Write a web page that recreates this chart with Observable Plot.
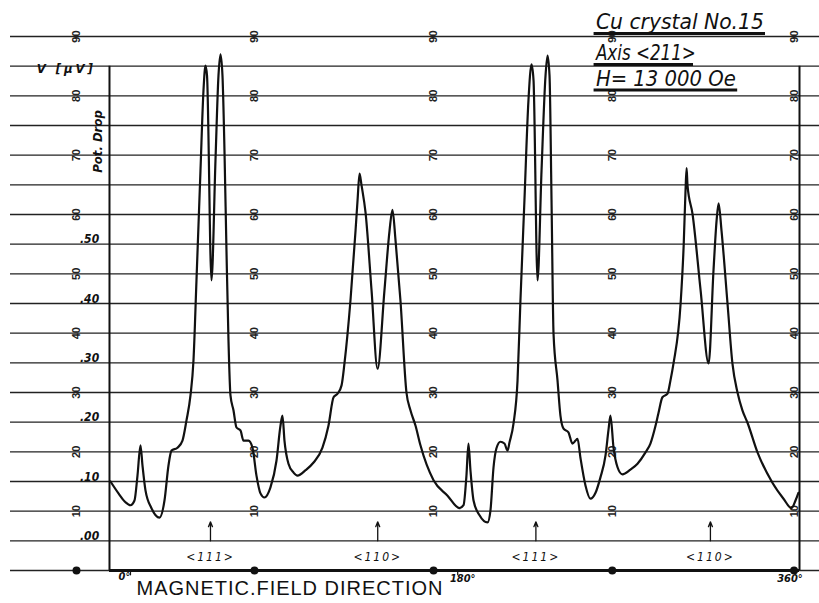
<!DOCTYPE html>
<html>
<head>
<meta charset="utf-8">
<script src="https://cdn.jsdelivr.net/npm/d3@7"></script>
<script src="https://cdn.jsdelivr.net/npm/@observablehq/plot@0.6"></script>
<style>
  html, body { margin: 0; padding: 0; background: #fff; }
  #chart { width: 819px; height: 603px; overflow: hidden; }
</style>
</head>
<body>
<div id="chart"></div>
<script>
// ---- data ----
// field direction (degrees) and potential drop V [μV]
const angleDeg = [
  -11.0, -6.6, -2.75, 0.0, 2.2, 3.85, 5.5, 6.6, 8.25, 11.55, 15.95, 18.7, 20.9, 22.55, 25.85,
  28.6, 30.8, 33.0, 34.65, 36.3, 38.5, 40.15, 41.25, 42.1, 44.55, 46.75, 48.4, 49.5, 50.6, 51.7,
  52.8, 53.9, 55.0, 56.65, 58.3, 60.5, 62.15, 64.9, 67.1, 69.3, 71.5, 73.7, 77.0, 80.3, 82.5,
  83.6, 84.7, 86.9, 89.7, 91.9, 96.3, 100.7, 105.6, 108.9, 111.7, 113.9, 116.1, 117.7, 121.0, 123.8,
  124.9, 126.0, 127.1, 129.3, 132.6, 135.9, 139.7, 142.5, 144.1, 145.8, 148.5, 151.8, 154.0, 156.8, 159.5,
  166.7, 174.4, 181.0, 183.2, 184.8, 185.9, 187.0, 188.7, 192.0, 196.4, 198.0, 199.7, 201.3, 203.5, 205.7,
  207.4, 208.5, 210.7, 212.9, 214.5, 216.7, 218.9, 220.6, 221.7, 223.9, 226.1, 228.3, 229.4, 230.5, 231.6,
  232.7, 234.9, 236.5, 238.2, 240.9, 243.1, 244.8, 245.9, 247.5, 250.3, 253.0, 255.8, 258.5, 261.3, 262.9,
  264.0, 265.7, 267.9, 270.6, 275.0, 278.9, 283.3, 286.0, 288.8, 290.4, 292.6, 295.4, 297.0, 298.7, 302.6,
  304.3, 305.3, 305.9, 306.4, 309.2, 313.6, 318.0, 320.7, 322.4, 323.5, 325.1, 328.4, 331.1, 333.9, 336.6,
  339.4, 344.9, 353.1, 359.2, 363.6, 365.8, 367.4
];
const potDrop = [
  0.100, 0.080, 0.065, 0.060, 0.068, 0.110, 0.161, 0.127, 0.085, 0.055, 0.039, 0.068, 0.127, 0.152, 0.157,
  0.169, 0.203, 0.245, 0.304, 0.439, 0.624, 0.759, 0.801, 0.784, 0.439, 0.641, 0.784, 0.820, 0.784, 0.658,
  0.489, 0.338, 0.245, 0.220, 0.191, 0.186, 0.169, 0.169, 0.157, 0.110, 0.080, 0.073, 0.090, 0.135, 0.194,
  0.211, 0.169, 0.130, 0.115, 0.110, 0.119, 0.132, 0.157, 0.194, 0.242, 0.248, 0.262, 0.299, 0.405, 0.523,
  0.574, 0.619, 0.599, 0.553, 0.422, 0.290, 0.422, 0.523, 0.558, 0.506, 0.405, 0.250, 0.220, 0.194, 0.161,
  0.102, 0.076, 0.055, 0.060, 0.110, 0.164, 0.119, 0.068, 0.043, 0.031, 0.051, 0.124, 0.156, 0.167, 0.164,
  0.152, 0.166, 0.198, 0.270, 0.405, 0.574, 0.742, 0.803, 0.776, 0.439, 0.624, 0.784, 0.818, 0.784, 0.574,
  0.349, 0.270, 0.211, 0.189, 0.183, 0.164, 0.169, 0.172, 0.140, 0.093, 0.071, 0.081, 0.107, 0.144, 0.186,
  0.211, 0.157, 0.124, 0.112, 0.120, 0.130, 0.149, 0.164, 0.194, 0.215, 0.242, 0.248, 0.270, 0.299, 0.400,
  0.499, 0.590, 0.628, 0.599, 0.550, 0.422, 0.299, 0.456, 0.540, 0.569, 0.523, 0.400, 0.299, 0.250, 0.220,
  0.199, 0.149, 0.098, 0.071, 0.055, 0.068, 0.081
];

// chart paper: ruled lines, printed numbers and their columns
const gridV = [-0.05, 0.00, 0.05, 0.10, 0.15, 0.20, 0.25, 0.30, 0.35, 0.40, 0.45, 0.50,
               0.55, 0.60, 0.65, 0.70, 0.75, 0.80, 0.85];
const paperNumbers = ["10", "20", "30", "40", "50", "60", "70", "80", "90"];
const paperNumberV = [0.05, 0.15, 0.25, 0.35, 0.45, 0.55, 0.65, 0.75, 0.85];
const paperColumnsDeg = [-29.7, 68.2, 166.7, 265.0, 365.0];

// hand-written V scale
const voltLabels = [".00", ".10", ".20", ".30", ".40", ".50"];
const voltLabelV = [0.00, 0.10, 0.20, 0.30, 0.40, 0.50];

// crystal directions
const orientDeg = [44, 136, 223, 319];
const orientLabels = ["<111>", "<110>", "<111>", "<110>"];

// angle labels
const degreeTicks = [0, 180, 360];
const degreeLabels = ["0°", "180°", "360°"];

// recorded span
const recordStartDeg = -11.55, recordEndDeg = 368;
const axisBottomV = -0.05, axisTopV = 0.80;
const paperLeftDeg = -66, paperRightDeg = 379;

const xLabel = "MAGNETIC.FIELD DIRECTION";
const yUnit = "V [μV]";
const yName = "Pot. Drop";
const titleLines = ["Cu crystal No.15", "Axis <211>", "H= 13 000 Oe"];
const titleV = [0.862, 0.810, 0.7665];
const titleWidths = [168, 100, 140];
const underlineV = [0.855, 0.803, 0.760];
const underlineEndDeg = [349.3, 309.7, 334.0];
const titleStartDeg = 256.0;

const curve = angleDeg.map((a, i) => ({angle: a, v: potDrop[i]}));
const paperCells = paperColumnsDeg.flatMap(c => paperNumbers.map((t, i) => ({x: c, y: paperNumberV[i], t})));
const voltCells = voltLabels.map((t, i) => ({t, y: voltLabelV[i]}));
const orientCells = orientLabels.map((t, i) => ({t, x: orientDeg[i]}));
const titleCells = titleLines.map((t, i) => ({t, y: titleV[i]}));
const underlineCells = underlineV.map((y, i) => ({y, x2: underlineEndDeg[i]}));

const hand = "'Liberation Sans Narrow', 'DejaVu Sans Condensed', 'Liberation Sans', sans-serif";
const ink = "#111";

const chart = Plot.plot({
  width: 819,
  height: 603,
  marginLeft: 10,
  marginRight: 0,
  marginTop: 36,
  marginBottom: 33,
  x: {domain: [paperLeftDeg, paperRightDeg], axis: null},
  y: {domain: [-0.05, 0.85], axis: null},
  style: {background: "#fff", color: ink, fontFamily: hand},
  marks: [
    // ruled paper lines
    Plot.ruleY(gridV, {y: d => d, x1: paperLeftDeg, x2: paperRightDeg, stroke: "#222", strokeWidth: 1.4}),
    // printed paper numbers
    Plot.text(paperCells, {x: "x", y: "y", text: "t", rotate: -90, fontSize: 11, fontWeight: "bold",
      fontFamily: "'Liberation Sans', sans-serif", fill: "#222"}),
    // frame of the record
    Plot.ruleY([axisBottomV], {y: d => d, x1: recordStartDeg, x2: recordEndDeg, stroke: ink, strokeWidth: 3}),
    Plot.ruleX([recordStartDeg, recordEndDeg], {x: d => d, y1: axisBottomV, y2: axisTopV, stroke: ink, strokeWidth: 2}),
    Plot.dot(paperColumnsDeg, {x: d => d, y: axisBottomV, r: 4, fill: ink}),
    Plot.ruleX(degreeTicks.slice(0, 2), {x: d => d, y1: axisBottomV, y2: axisBottomV - 0.009, stroke: ink, strokeWidth: 1.2}),
    // the record
    Plot.line(curve, {x: "angle", y: "v", curve: "monotone-x", stroke: ink, strokeWidth: 2.2}),
    // hand-written volt scale
    Plot.text(voltCells, {x: -22.5, y: "y", text: "t", dy: -1, lineAnchor: "bottom", fontSize: 12,
      fontStyle: "italic", fontWeight: "bold", fill: ink}),
    Plot.text([yUnit], {x: -51.5, y: 0.788, text: d => d, textAnchor: "start", lineAnchor: "bottom",
      fontSize: 13, fontStyle: "italic", fontWeight: "bold", fill: ink}),
    Plot.text([yName], {x: -18.2, y: 0.673, text: d => d, rotate: -90, fontSize: 13,
      fontStyle: "italic", fontWeight: "bold", fill: ink}),
    // orientation arrows
    Plot.arrow(orientDeg, {x1: d => d, x2: d => d, y1: 0.0, y2: 0.032, stroke: ink, strokeWidth: 1.3,
      headLength: 6, headAngle: 45}),
    Plot.text(orientCells, {x: "x", y: -0.028, text: "t", fontSize: 12, fontStyle: "italic", fill: ink}),
    // angle labels
    Plot.text(degreeLabels.slice(0, 1), {x: degreeTicks[0], y: -0.0655, text: d => d, dx: -6, lineAnchor: "bottom",
      fontSize: 11, fontStyle: "italic", fontWeight: "bold", fill: ink}),
    Plot.text(degreeLabels.slice(1), {x: (d, i) => degreeTicks[i + 1], y: -0.069, text: d => d, dx: 5, lineAnchor: "bottom",
      fontSize: 11, fontStyle: "italic", fontWeight: "bold", fill: ink}),
    Plot.text([xLabel], {x: 3.3, y: -0.092, text: d => d, textAnchor: "start",
      lineAnchor: "bottom", fontSize: 20, fontFamily: "'Liberation Sans', sans-serif", fill: ink}),
    // title block
    Plot.text(titleCells, {x: titleStartDeg, y: "y", text: "t", textAnchor: "start", lineAnchor: "bottom",
      fontSize: 22, fontStyle: "italic", fill: ink}),
    Plot.ruleY(underlineCells, {y: "y", x1: 255.0, x2: "x2", stroke: ink, strokeWidth: 3})
  ]
});
document.getElementById("chart").appendChild(chart);

// fit hand-lettered texts to the widths measured on the original
const texts = d3.select(chart).selectAll("text");
texts.each(function() {
  const s = this.textContent;
  const el = d3.select(this);
  const ti = titleLines.indexOf(s);
  if (ti >= 0) el.attr("textLength", titleWidths[ti]).attr("lengthAdjust", "spacingAndGlyphs");
  else if (s === xLabel) el.attr("textLength", 306).attr("lengthAdjust", "spacing");
  else if (s === yUnit) el.attr("textLength", 56).attr("lengthAdjust", "spacing");
  else if (orientLabels.includes(s)) el.style("letter-spacing", "2px");
});
</script>
</body>
</html>
